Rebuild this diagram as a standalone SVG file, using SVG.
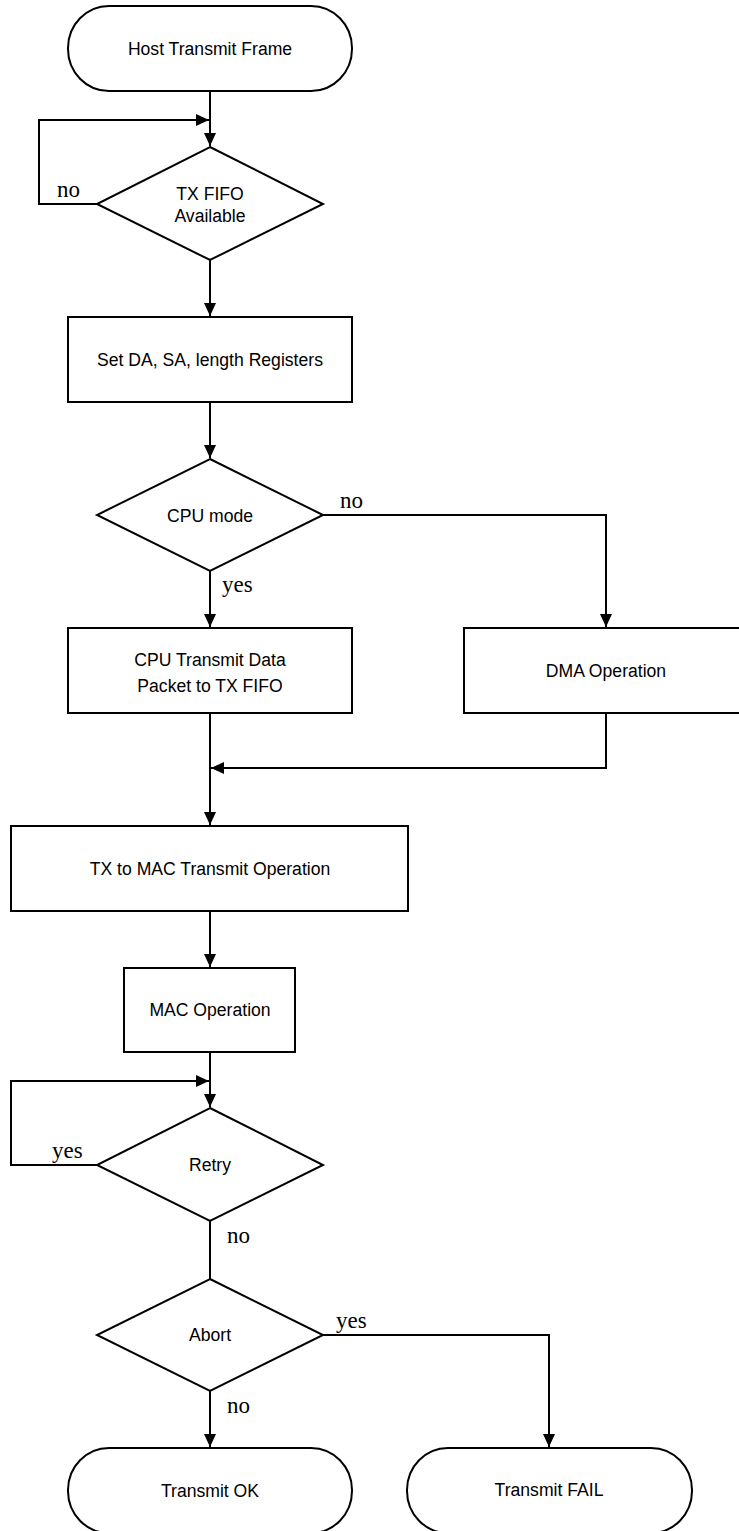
<svg xmlns="http://www.w3.org/2000/svg" width="739" height="1531" viewBox="0 0 739 1531">
<style>
.shape{fill:#fff;stroke:#000;stroke-width:2}
.c{fill:none;stroke:#000;stroke-width:2}
.t{font-family:"Liberation Sans",Arial,sans-serif;font-size:17.6px;fill:#000;text-anchor:middle}
.l{font-family:"Liberation Serif","Times New Roman",serif;font-size:23px;fill:#000}
</style>
<defs>
<marker id="ah" markerUnits="userSpaceOnUse" markerWidth="14" markerHeight="13" refX="13" refY="6" orient="auto">
<path d="M0,0 L13,6 L0,12 Z" fill="#000"/>
</marker>
</defs>
<rect width="739" height="1531" fill="#fff"/>
<g id="connectors">
<path class="c" d="M210,91 V146" marker-end="url(#ah)"/>
<path class="c" d="M97,204 H39 V120 H209" marker-end="url(#ah)"/>
<path class="c" d="M210,260 V316" marker-end="url(#ah)"/>
<path class="c" d="M210,402 V458" marker-end="url(#ah)"/>
<path class="c" d="M210,571 V627" marker-end="url(#ah)"/>
<path class="c" d="M323,515 H606 V627" marker-end="url(#ah)"/>
<path class="c" d="M210,713 V825" marker-end="url(#ah)"/>
<path class="c" d="M606,713 V768 H211" marker-end="url(#ah)"/>
<path class="c" d="M210,911 V967" marker-end="url(#ah)"/>
<path class="c" d="M210,1052 V1107" marker-end="url(#ah)"/>
<path class="c" d="M97,1165 H11 V1081 H209" marker-end="url(#ah)"/>
<path class="c" d="M210,1221 V1279"/>
<path class="c" d="M210,1391 V1447" marker-end="url(#ah)"/>
<path class="c" d="M323,1335 H549 V1447" marker-end="url(#ah)"/>
<text class="l" x="57" y="197">no</text>
<text class="l" x="340" y="508">no</text>
<text class="l" x="222" y="592">yes</text>
<text class="l" x="52" y="1158">yes</text>
<text class="l" x="227" y="1243">no</text>
<text class="l" x="336" y="1328">yes</text>
<text class="l" x="227" y="1413">no</text>
</g>
<g id="start">
<rect class="shape" x="68" y="6" width="284" height="85" rx="41" ry="42"/>
<text class="t" x="210" y="55">Host Transmit Frame</text>
</g>
<g id="txfifo">
<polygon class="shape" points="210,147 323,204 210,260 97,204"/>
<text class="t" x="210" y="200">TX FIFO</text>
<text class="t" x="210" y="222">Available</text>
</g>
<g id="setregs">
<rect class="shape" x="68" y="317" width="284" height="85"/>
<text class="t" x="210" y="366">Set DA, SA, length Registers</text>
</g>
<g id="cpumode">
<polygon class="shape" points="210,459 323,515 210,571 97,515"/>
<text class="t" x="210" y="522">CPU mode</text>
</g>
<g id="cputx">
<rect class="shape" x="68" y="628" width="284" height="85"/>
<text class="t" x="210" y="666">CPU Transmit Data</text>
<text class="t" x="210" y="692">Packet to TX FIFO</text>
</g>
<g id="dma">
<rect class="shape" x="464" y="628" width="284" height="85"/>
<text class="t" x="606" y="677">DMA Operation</text>
</g>
<g id="txmac">
<rect class="shape" x="11" y="826" width="397" height="85"/>
<text class="t" x="210" y="875">TX to MAC Transmit Operation</text>
</g>
<g id="macop">
<rect class="shape" x="124" y="968" width="171" height="84"/>
<text class="t" x="210" y="1016">MAC Operation</text>
</g>
<g id="retry">
<polygon class="shape" points="210,1108 323,1165 210,1221 97,1165"/>
<text class="t" x="210" y="1171">Retry</text>
</g>
<g id="abort">
<polygon class="shape" points="210,1279 323,1335 210,1391 97,1335"/>
<text class="t" x="210" y="1341">Abort</text>
</g>
<g id="ok">
<rect class="shape" x="68" y="1448" width="284" height="85" rx="41" ry="42"/>
<text class="t" x="210" y="1497">Transmit OK</text>
</g>
<g id="fail">
<rect class="shape" x="407" y="1448" width="285" height="85" rx="41" ry="42"/>
<text class="t" x="549" y="1496">Transmit FAIL</text>
</g>
</svg>
